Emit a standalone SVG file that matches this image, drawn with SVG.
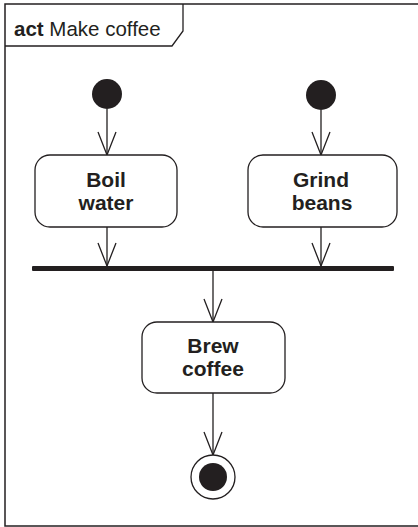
<svg xmlns="http://www.w3.org/2000/svg" width="418" height="527" viewBox="0 0 418 527">
<style>
.ln{stroke:#231f20;stroke-width:1.3;fill:none}
.box{fill:#fff;stroke:#231f20;stroke-width:1.3}
.lbl{font-family:"Liberation Sans",Arial,sans-serif;font-weight:bold;font-size:21px;fill:#231f20;text-anchor:middle}
.ttl{font-family:"Liberation Sans",Arial,sans-serif;font-size:20.5px;fill:#231f20}
.dot{fill:#231f20}
</style>
<defs>
<marker id="open" markerWidth="26" markerHeight="20" refX="24" refY="10" orient="auto" markerUnits="userSpaceOnUse" viewBox="0 0 26 20">
<path d="M1,1 L24,10 L1,19" fill="none" stroke="#231f20" stroke-width="1.3"/>
</marker>
</defs>
<rect width="418" height="527" fill="#fff"/>
<g id="frame">
<rect x="5" y="4" width="420" height="522" fill="none" stroke="#231f20" stroke-width="1.5"/>
<path class="ln" d="M5,46 L172,46 L183,31 L183,4"/>
<text class="ttl" x="14" y="36"><tspan font-weight="bold">act</tspan> Make coffee</text>
</g>
<g id="connectors">
<line class="ln" x1="107" y1="109" x2="107" y2="155" marker-end="url(#open)"/>
<line class="ln" x1="321" y1="110" x2="321" y2="155" marker-end="url(#open)"/>
<line class="ln" x1="107" y1="227" x2="107" y2="266" marker-end="url(#open)"/>
<line class="ln" x1="321" y1="227" x2="321" y2="266" marker-end="url(#open)"/>
<line class="ln" x1="213" y1="271" x2="213" y2="322" marker-end="url(#open)"/>
<line class="ln" x1="213" y1="393" x2="213" y2="455" marker-end="url(#open)"/>
</g>
<g id="start1"><circle class="dot" cx="107" cy="94" r="15"/></g>
<g id="start2"><circle class="dot" cx="321" cy="95" r="15"/></g>
<g id="boil">
<rect class="box" x="35" y="155" width="142" height="72" rx="15"/>
<text class="lbl" x="106" y="187">Boil</text>
<text class="lbl" x="106" y="210">water</text>
</g>
<g id="grind">
<rect class="box" x="248" y="155" width="149" height="72" rx="15"/>
<text class="lbl" x="321" y="187">Grind</text>
<text class="lbl" x="322" y="210">beans</text>
</g>
<g id="fork">
<rect class="dot" x="32" y="266" width="362" height="5" rx="1"/>
</g>
<g id="brew">
<rect class="box" x="142" y="322" width="143" height="71" rx="15"/>
<text class="lbl" x="213" y="353">Brew</text>
<text class="lbl" x="213" y="376">coffee</text>
</g>
<g id="final">
<circle cx="213" cy="477" r="22" fill="#fff" stroke="#231f20" stroke-width="1.3"/>
<circle class="dot" cx="213" cy="477" r="14"/>
</g>
</svg>
